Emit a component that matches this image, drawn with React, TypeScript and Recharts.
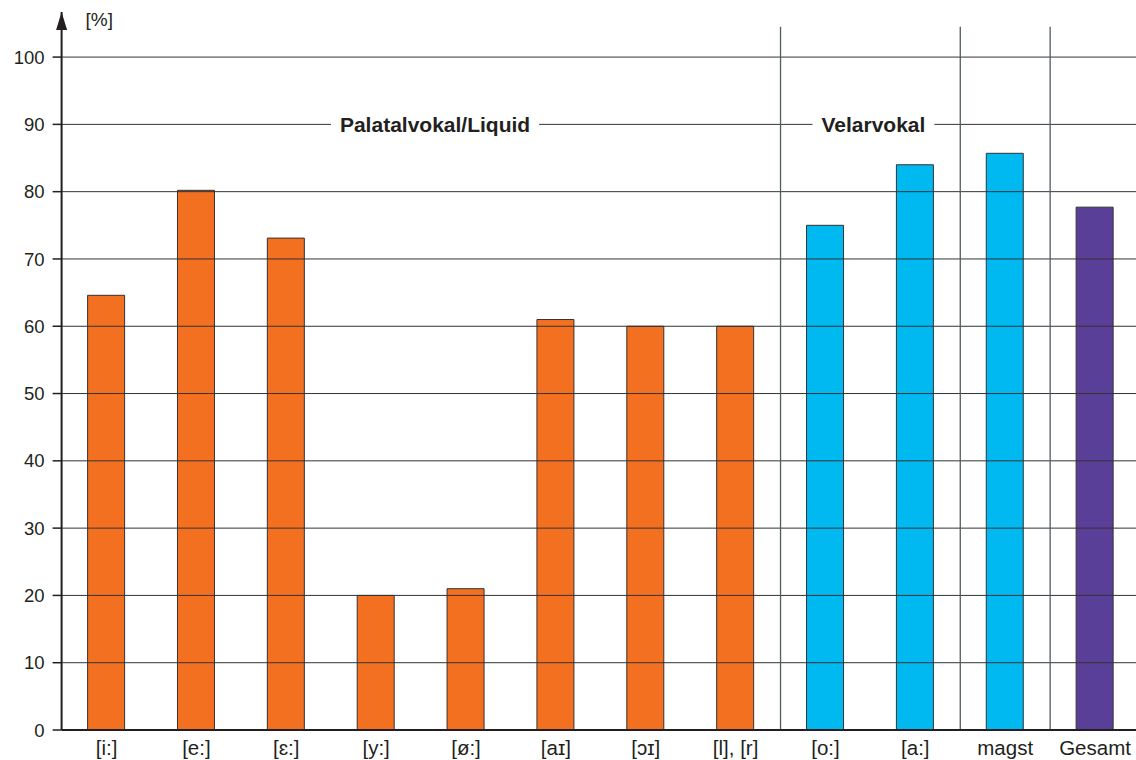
import React from 'react';
import {
  BarChart,
  Bar,
  Cell,
  XAxis,
  YAxis,
  ReferenceLine,
} from 'recharts';

const categories = ['[i:]', '[e:]', '[ɛ:]', '[y:]', '[ø:]', '[aɪ]', '[ɔɪ]', '[l], [r]', '[o:]', '[a:]', 'magst', 'Gesamt'];
const values = [64.6, 80.2, 73.1, 20, 21, 61, 60, 60, 75, 84, 85.7, 77.7];
const groups = ['pal', 'pal', 'pal', 'pal', 'pal', 'pal', 'pal', 'pal', 'vel', 'vel', 'magst', 'total'];
const yTicks = [0, 10, 20, 30, 40, 50, 60, 70, 80, 90, 100];
// a separator line stands at the start of these categories
const separatorsBefore = ['[o:]', 'magst', 'Gesamt'];
const groupLabels = [
  { text: 'Palatalvokal/Liquid', from: '[i:]', to: '[l], [r]', level: 90 },
  { text: 'Velarvokal', from: '[o:]', to: '[a:]', level: 90 },
];

const groupColor: Record<string, string> = {
  pal: '#F37021',
  vel: '#00B9F1',
  magst: '#00B9F1',
  total: '#5A3F98',
};
// small nudges so the group titles sit where the original has them
const labelNudge: Record<string, number> = {
  'Palatalvokal/Liquid': 14,
  Velarvokal: 3,
};

const ink = '#231F20';
const labelFont = 'bold 21px "Liberation Sans", Arial, sans-serif';

const data = categories.map((name, i) => ({ name, value: values[i], group: groups[i] }));

function measure(text: string, font: string): number {
  const ctx = document.createElement('canvas').getContext('2d');
  if (!ctx) return text.length * 12;
  ctx.font = font;
  return ctx.measureText(text).width;
}

function AxisArrow(props: any) {
  const vb = props.viewBox;
  if (!vb) return null;
  const x = vb.x + vb.width;
  const y = vb.y;
  return (
    <g>
      <polygon points={`${x},${y} ${x - 5.5},${y + 18} ${x + 5.5},${y + 18}`} fill={ink} />
      <text x={x + 24} y={y + 14} fontSize={19} fill={ink}>
        [%]
      </text>
    </g>
  );
}

function CategoryTick(props: any) {
  const { x, y, payload } = props;
  return (
    <text x={x} y={y + 17} textAnchor="middle" fontSize={20.5} fill={ink}>
      {payload.value}
    </text>
  );
}

function GroupTitle(text: string) {
  return (props: any) => {
    const vb = props.viewBox;
    if (!vb) return null;
    const cx = vb.x + (vb.width || 0) / 2 + (labelNudge[text] || 0);
    const cy = vb.y + (vb.height || 0) / 2;
    const w = measure(text, labelFont) + 18;
    return (
      <g>
        <rect x={cx - w / 2} y={cy - 10} width={w} height={20} fill="#fff" />
        <text
          x={cx}
          y={cy + 7.5}
          textAnchor="middle"
          fontSize={21}
          fontWeight="bold"
          fill={ink}
        >
          {text}
        </text>
      </g>
    );
  };
}

export default function App() {
  return (
    <div
      style={{
        position: 'absolute',
        left: 0,
        top: 0,
        width: 1136,
        height: 760,
        overflow: 'hidden',
        fontFamily: '"Liberation Sans", Arial, sans-serif',
        background: '#fff',
      }}
    >
      <BarChart
        width={1140}
        height={760}
        data={data}
        margin={{ top: 12, right: 0, left: 0, bottom: 0 }}
        barCategoryGap={0}
      >
        <XAxis
          dataKey="name"
          height={30}
          tick={<CategoryTick />}
          tickLine={false}
          axisLine={{ stroke: ink, strokeWidth: 2 }}
          interval={0}
        />
        <YAxis
          width={61.6}
          domain={[0, 106.7]}
          ticks={yTicks}
          interval={0}
          allowDataOverflow
          tick={{ fontSize: 18.5, fill: ink }}
          tickSize={9}
          tickMargin={8}
          tickLine={{ stroke: ink, strokeWidth: 1.5 }}
          axisLine={{ stroke: ink, strokeWidth: 2 }}
          label={{ content: <AxisArrow /> }}
        />
        {/* horizontal grid, one line per tick */}
        {yTicks.slice(1).map((t) => (
          <ReferenceLine key={`g${t}`} y={t} stroke="#333" strokeWidth={1} />
        ))}
        {separatorsBefore.map((c) => (
          <ReferenceLine
            key={c}
            segment={[{ x: c, y: 0 }, { x: c, y: 104.5 }]}
            position="start"
            stroke="#4f5c63"
            strokeWidth={1.3}
            ifOverflow="visible"
          />
        ))}
        {groupLabels.map((g) => (
          <ReferenceLine
            key={g.text}
            segment={[{ x: g.from, y: g.level }, { x: g.to, y: g.level }]}
            stroke="none"
            strokeOpacity={0}
            ifOverflow="visible"
            label={{ content: GroupTitle(g.text) }}
          />
        ))}
        <Bar dataKey="value" barSize={37} stroke="#333" strokeWidth={1} isAnimationActive={false}>
          {data.map((d) => (
            <Cell key={d.name} fill={groupColor[d.group]} />
          ))}
        </Bar>
      </BarChart>
    </div>
  );
}
